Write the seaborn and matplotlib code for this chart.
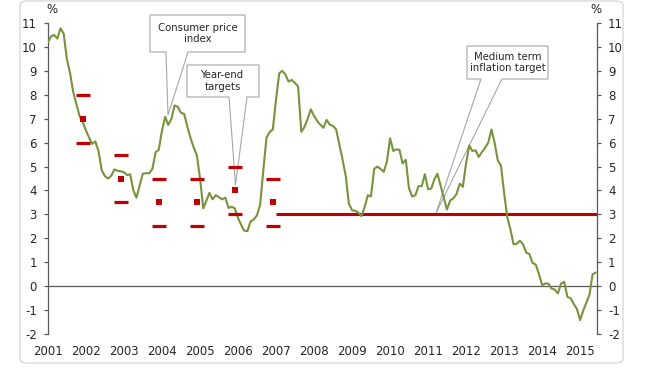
import pandas as pd
import seaborn as sns
import matplotlib.pyplot as plt
import matplotlib.dates as mdates
from matplotlib.patches import Polygon, FancyBboxPatch

# monthly consumer price index, % y/y, Jan 2001 - Jun 2015
cpi = [
    10.2, 10.45, 10.5, 10.35, 10.78, 10.55, 9.5, 8.9, 8.1, 7.6, 7.1, 6.85,
    6.5, 6.2, 5.95, 6.05, 5.65, 4.85, 4.6, 4.5, 4.62, 4.88, 4.82, 4.8,
    4.76, 4.64, 4.68, 4.0, 3.7, 4.2, 4.7, 4.72, 4.72, 4.9, 5.6, 5.7,
    6.5, 7.08, 6.74, 7.0, 7.55, 7.5, 7.25, 7.2, 6.67, 6.2, 5.8, 5.48,
    4.5, 3.25, 3.55, 3.9, 3.63, 3.8, 3.72, 3.63, 3.7, 3.27, 3.32, 3.25,
    2.85, 2.55, 2.32, 2.3, 2.7, 2.79, 2.95, 3.4, 4.85, 6.2, 6.45, 6.55,
    7.8, 8.9, 9.0, 8.85, 8.55, 8.62, 8.5, 8.35, 6.45, 6.65, 7.0, 7.39,
    7.12, 6.9, 6.75, 6.62, 6.95, 6.75, 6.7, 6.55, 5.9, 5.3, 4.6, 3.45,
    3.17, 3.15, 3.07, 2.93, 3.3, 3.8, 3.75, 4.9, 5.0, 4.9, 4.78, 5.2,
    6.18, 5.65, 5.72, 5.7, 5.13, 5.28, 4.1, 3.75, 3.8, 4.18, 4.18, 4.68,
    4.05, 4.08, 4.45, 4.7, 4.2, 3.7, 3.2, 3.58, 3.67, 3.85, 4.28, 4.15,
    5.13, 5.88, 5.65, 5.68, 5.4, 5.6, 5.78, 6.0, 6.55, 6.0, 5.25, 5.05,
    3.88, 2.85, 2.4, 1.75, 1.77, 1.9, 1.75, 1.4, 1.34, 0.97, 0.9, 0.5,
    0.05, 0.11, 0.11, -0.1, -0.14, -0.3, 0.1, 0.18, -0.45, -0.5, -0.75, -0.95,
    -1.42, -1.0, -0.7, -0.35, 0.5, 0.57,
]
dates = pd.date_range('2001-01-01', periods=len(cpi), freq='MS')

# year-end targets (December of each year) with +/-1 pp band
target_dates = pd.to_datetime(['2001-12-01', '2002-12-01', '2003-12-01',
                               '2004-12-01', '2005-12-01', '2006-12-01'])
target_mid = [7.0, 4.5, 3.5, 3.5, 4.0, 3.5]
target_low = [6.0, 3.5, 2.5, 2.5, 3.0, 2.5]
target_high = [8.0, 5.5, 4.5, 4.5, 5.0, 4.5]

medium_target = 3.0
medium_start = pd.Timestamp('2007-01-01')

years = list(range(2001, 2016))
y_ticks = list(range(-2, 12))

GREEN = '#77933C'
RED = '#C00000'
AXC = '#595959'
W, H = 645, 369

sns.set_style('white')
plt.rcParams['font.family'] = ['DejaVu Sans']
plt.rcParams['font.size'] = 8
plt.rcParams['axes.unicode_minus'] = False

fig = plt.figure(figsize=(W / 100, H / 100), dpi=100)
ax = fig.add_axes([48 / W, 1 - 334 / H, (597 - 48) / W, (334 - 23) / H])
ax.patch.set_alpha(0)

x_left = pd.Timestamp('2001-01-01')
x_right = pd.Timestamp('2015-06-12')

sns.lineplot(x=dates, y=cpi, color=GREEN, linewidth=1.5, ax=ax, zorder=3)

ax.hlines(medium_target, medium_start, x_right, color=RED, linewidth=2.2, zorder=2)
ax.plot(target_dates, target_high, linestyle='none', marker='_', markersize=9.5,
        markeredgewidth=2.3, color=RED, zorder=4)
ax.plot(target_dates, target_low, linestyle='none', marker='_', markersize=9.5,
        markeredgewidth=2.3, color=RED, zorder=4)
sns.scatterplot(x=target_dates, y=target_mid, marker='s', s=22, color=RED,
                linewidth=0, ax=ax, zorder=4)

ax.set_xlim(x_left, x_right)
ax.set_ylim(-2, 11)
ax.set_xlabel('')
ax.set_ylabel('')

# axes: left and right with % scale, bottom spine through zero
for side in ['left', 'right', 'bottom']:
    ax.spines[side].set_color(AXC)
    ax.spines[side].set_linewidth(0.9)
ax.spines['top'].set_visible(False)
ax.spines['bottom'].set_position(('data', 0))

ax.set_yticks(y_ticks)
ax.tick_params(axis='y', which='both', left=True, right=True, labelleft=True,
               labelright=True, direction='out', length=3, width=0.9,
               color=AXC, pad=5, labelsize=8.5)
year_ticks = [pd.Timestamp(f'{y}-01-01') for y in years]
ax.set_xticks(year_ticks)
ax.tick_params(axis='x', direction='out', length=3, width=0.9, color=AXC,
               labelbottom=False)

sec = ax.secondary_xaxis('bottom')
sec.set_xticks(mdates.date2num(year_ticks))
sec.set_xticklabels([str(y) for y in years])
sec.spines['bottom'].set_visible(False)
sec.tick_params(length=0, pad=8, labelsize=8.5)

ax.annotate('%', xy=(0, 1), xycoords='axes fraction', xytext=(3, 10),
            textcoords='offset points', ha='center', va='center', fontsize=8.5)
ax.annotate('%', xy=(1, 1), xycoords='axes fraction', xytext=(-1, 10),
            textcoords='offset points', ha='center', va='center', fontsize=8.5)


def fig_xy(px, py):
    return (px / W, 1 - py / H)


def callout(text, left, right, top, bottom, w1, w2, tip):
    pts = [(left, top), (right, top), (right, bottom), (w2, bottom), tip,
           (w1, bottom), (left, bottom)]
    poly = Polygon([fig_xy(*p) for p in pts], closed=True, facecolor='white',
                   edgecolor='#A6A6A6', linewidth=0.8, transform=fig.transFigure,
                   clip_on=False, zorder=1.5)
    ax.add_patch(poly)
    cx, cy = fig_xy((left + right) / 2, (top + bottom) / 2)
    ax.text(cx, cy, text, transform=fig.transFigure, ha='center', va='center',
            fontsize=7.3, linespacing=1.15, zorder=5)


callout('Consumer price\nindex', 150, 245, 15, 52, 166, 188, (168, 115))
callout('Year-end\ntargets', 187, 259, 65, 97, 229, 247, (235.5, 185))
callout('Medium term\ninflation target', 467, 548, 46, 79, 481, 502, (436, 213))

frame = FancyBboxPatch((20 / W, 1 - 363 / H), 603 / W, 362 / H,
                       boxstyle='round,pad=0,rounding_size=0.012',
                       transform=fig.transFigure, facecolor='none',
                       edgecolor='#D9D9D9', linewidth=1.0)
fig.add_artist(frame)

fig.savefig('out.png', dpi=100)
